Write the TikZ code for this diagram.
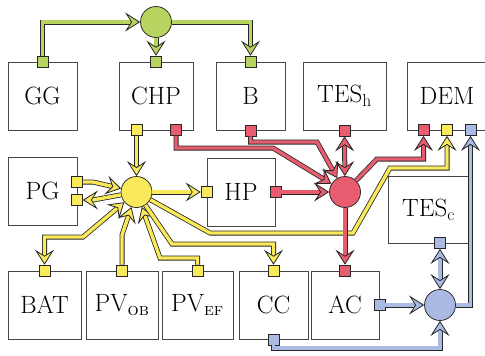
\documentclass[tikz,border=0pt]{standalone}
\usetikzlibrary{arrows.meta,calc}
\definecolor{cg}{RGB}{183,211,96}
\definecolor{cy}{RGB}{250,234,90}
\definecolor{cr}{RGB}{232,92,112}
\definecolor{cb}{RGB}{170,186,226}
\definecolor{edge}{RGB}{70,70,70}
\begin{document}
\begin{tikzpicture}[x=1pt,y=-1pt,
  box/.style={draw=edge, line width=0.8pt, minimum width=#1, minimum height=68pt, inner sep=0pt, font=\fontsize{25}{29}\selectfont},
  port/.style={draw=black!85, line width=0.75pt, fill=#1, minimum size=11pt, inner sep=0pt},
  hub/.style={circle, draw=black!85, line width=0.75pt, fill=#1, minimum size=31pt, inner sep=0pt},
  flow/.style={draw=black!85, line width=0.8pt, double=#1, double distance=3.4pt,
    -{Stealth[length=15pt,width=19pt,inset=6pt,fill=#1,line width=0.8pt]}},
  bflow/.style={draw=black!85, line width=0.8pt, double=#1, double distance=3.4pt,
    {Stealth[length=15pt,width=19pt,inset=6pt,fill=#1,line width=0.8pt]}-{Stealth[length=15pt,width=19pt,inset=6pt,fill=#1,line width=0.8pt]}}]
\useasboundingbox (0,0) rectangle (485,356);
\clip (0,0) rectangle (485,356);
% boxes
\node[box=69pt] (GG) at (42.5,96) {GG};
\node[box=74pt] (CHP) at (156,96) {CHP};
\node[box=69pt] (B) at (250.5,96) {B};
\node[box=83pt] (TESh) at (344.5,96) {TES\textsubscript{h}};
\node[box=80pt] (DEM) at (447,96) {DEM};
\node[box=69pt] (PG) at (42.5,191) {PG};
\node[box=68pt] (HP) at (241,192) {HP};
\node[box=81pt, minimum height=67pt] (TESc) at (428.5,209.5) {TES\textsubscript{c}};
\node[box=73pt] (BAT) at (44.5,305) {BAT};
\node[box=72pt] (PVOB) at (122,305) {PV\textsubscript{\scshape ob}};
\node[box=71pt] (PVEF) at (197.5,305) {PV\textsubscript{\scshape ef}};
\node[box=69pt] (CC) at (273.5,305) {CC};
\node[box=68pt] (AC) at (345,305) {AC};
% hubs
\node[hub=cg] (gC) at (156,22) {};
\node[hub=cy] (yC) at (136.5,192) {};
\node[hub=cr] (rC) at (345,192) {};
\node[hub=cb] (bC) at (440,305) {};
% ports
\node[port=cg] (GGg) at (GG.north) {};
\node[port=cg] (CHPg) at (CHP.north) {};
\node[port=cg] (Bg) at (B.north) {};
\node[port=cy] (CHPy) at (136.5,130) {};
\node[port=cr] (CHPr) at (176,130) {};
\node[port=cr] (Br) at (B.south) {};
\node[port=cr] (TEShr) at (TESh.south) {};
\node[port=cr] (DEMr) at (423.5,130) {};
\node[port=cy] (DEMy) at (447,130) {};
\node[port=cb] (DEMb) at (470.5,130) {};
\node[port=cy] (PGa) at (77,182) {};
\node[port=cy] (PGb) at (77,200) {};
\node[port=cy] (HPy) at (HP.west) {};
\node[port=cr] (HPr) at (HP.east) {};
\node[port=cb] (TEScb) at (440,243) {};
\node[port=cy] (BATy) at (BAT.north) {};
\node[port=cy] (PVOBy) at (PVOB.north) {};
\node[port=cy] (PVEFy) at (PVEF.north) {};
\node[port=cy] (CCy) at (CC.north) {};
\node[port=cr] (ACr) at (AC.north) {};
\node[port=cb] (ACb) at (AC.east) {};
\node[port=cb] (CCb) at (CC.south) {};
% green
\draw[flow=cg] (GGg.north) |- (gC.west);
\draw[flow=cg] (gC) -- (CHPg);
\draw[flow=cg] (gC.east) -| (Bg.north);
% yellow
\draw[flow=cy] (CHPy) -- (yC);
\draw[flow=cy] (PGa.east) -- ++(10,0) -- (yC);
\draw[flow=cy] (yC) -- ($(PGb.east)+(10,0)$) -- (PGb.east);
\draw[flow=cy] (yC) -- (HPy);
\draw[bflow=cy] (BATy.north) |- (83,237) -- (yC);
\draw[flow=cy] (PVOBy.north) -- (122,235) -- (yC);
\draw[flow=cy] (PVEFy.north) |- (160,258) -- (yC);
\draw[flow=cy] (yC) -- (172,244) -| (CCy.north);
\draw[flow=cy] (yC) -- (210,233) -- (353,233) -- (390,168) -| (DEMy.south);
% red
\draw[flow=cr] (CHPr.south) |- (273,148) -- (rC);
\draw[flow=cr] (Br.south) |- (317,142) -- (rC);
\draw[bflow=cr] (TEShr) -- (rC);
\draw[flow=cr] (HPr) -- (rC);
\draw[flow=cr] (rC) -- (377,159) -| (DEMr.south);
\draw[flow=cr] (rC) -- (ACr);
% blue
\draw[bflow=cb] (TEScb) -- (bC);
\draw[flow=cb] (ACb) -- (bC);
\draw[flow=cb] (CCb.south) |- (440,348) -- (bC);
\draw[flow=cb] (bC.east) -| (DEMb.south);
\end{tikzpicture}
\end{document}
